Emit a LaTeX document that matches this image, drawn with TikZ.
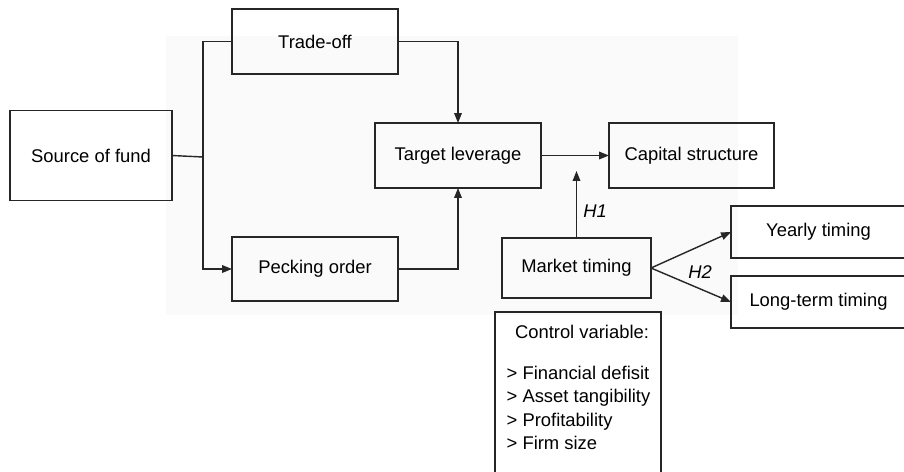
\documentclass[tikz,border=0pt]{standalone}
\usepackage{fontspec}
\setmainfont{Liberation Sans}
\usetikzlibrary{arrows.meta}
\tikzset{
  box/.style={draw=black!85, line width=1.3pt, rectangle, inner sep=0pt, outer sep=0pt},
  arr/.style={-{Triangle[length=8.5pt,width=6.5pt]}},
  conn/.style={draw=black!85, line width=1.2pt}
}
\begin{document}
\begin{tikzpicture}[x=0.03cm, y=-0.03cm, font=\fontsize{15.7}{20}\selectfont]
  \definecolor{panelgray}{RGB}{250,250,250}
  \useasboundingbox (0, 0) rectangle (904, 471);
  \fill [panelgray] (166, 36) rectangle (738, 315);

  \node [box, minimum width=4.86cm, minimum height=2.7cm] (src) at (91, 155.5) {Source of fund};
  \node [box, minimum width=4.98cm, minimum height=1.95cm] (trade) at (315, 41.5) {Trade-off};
  \node [box, minimum width=4.98cm, minimum height=1.92cm] (peck) at (315, 269) {Pecking order};
  \node [box, minimum width=4.98cm, minimum height=1.95cm] (target) at (458, 155.5) {Target leverage};
  \node [box, minimum width=4.95cm, minimum height=1.95cm] (capital) at (691.5, 155.5) {Capital structure};
  \node [box, minimum width=4.47cm, minimum height=1.8cm] (market) at (576.5, 268) {Market timing};
  \node [box, minimum width=5.25cm, minimum height=1.56cm] (yearly) at (818.5, 232) {Yearly timing};
  \node [box, minimum width=5.25cm, minimum height=1.56cm] (longterm) at (818.5, 302) {Long-term timing};
  \node [box, minimum width=4.98cm, minimum height=5.4cm] (control) at (578, 402) {};
  \node (ctrltitle) at (582, 332) {Control variable:};
  \node [align=left] (ctrllist) at (578.5, 408) {> Financial defisit\\> Asset tangibility\\> Profitability\\> Firm size};

  \coordinate (jn) at (203, 157);
  \coordinate (h1end) at (576.5, 171);
  \draw [conn] (src.east) -- (jn);
  \draw [conn] (jn) |- (trade.west);
  \draw [conn, arr] (jn) |- (peck.west);
  \draw [conn, arr] (trade.east) -| (target.north);
  \draw [conn, arr] (peck.east) -| (target.south);
  \draw [conn, arr] (target) -- (capital);
  \draw [conn, arr] (market.north) -- node [right, pos=0.4, xshift=2pt] {\itshape H1} (h1end);
  \draw [conn, arr] (market.east) -- (yearly.west);
  \draw [conn, arr] (market.east) -- (longterm.west);
  \node (h2) at (700, 272) {\itshape H2};
\end{tikzpicture}
\end{document}
